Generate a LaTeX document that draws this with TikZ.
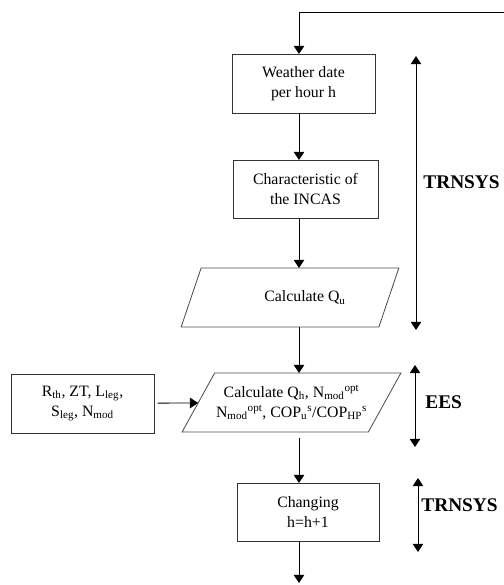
\documentclass[tikz,border=0pt]{standalone}
\usepackage{fontspec}
\setmainfont{Liberation Serif}
\usetikzlibrary{arrows.meta,shapes.geometric}

\tikzset{
  flowbox/.style={draw=black!80, rectangle, minimum width=4.29cm, minimum height=1.77cm,
    inner sep=0pt, outer sep=0pt, align=center, font=\fontsize{13.5}{17}\selectfont},
  flowio/.style={draw=black!70, trapezium, trapezium left angle=47.5, trapezium right angle=132.5,
    trapezium stretches=true, minimum width=6.54cm, minimum height=1.77cm,
    inner sep=0pt, outer sep=0pt, align=center, font=\fontsize{13.5}{17}\selectfont},
  toolname/.style={anchor=west, inner sep=0pt, font=\fontsize{16.5}{20}\selectfont\bfseries}
}

\begin{document}
\begin{tikzpicture}[x=0.03cm,y=-0.03cm, line width=0.7pt, >={Triangle[length=7pt,width=9pt]}]
	\useasboundingbox (0,0) rectangle (504,585);

	% Hauptkette
	\node[flowbox] (weather) at (303.5,83.5) {Weather date\\per hour h};
	\node[flowbox, minimum width=4.35cm, minimum height=1.74cm] (incas) at (305.5,189) {Characteristic of\\the INCAS};
	\node[flowio] (calcqu) at (290,297.5) {\hspace*{0.9cm}Calculate Q\textsubscript{u}};
	\node[flowio, minimum width=6.57cm] (calcqh) at (291.5,402.5)
		{Calculate Q\textsubscript{h}, N\textsubscript{mod}\textsuperscript{opt}\\
		 N\textsubscript{mod}\textsuperscript{opt}, COP\textsubscript{u}\textsuperscript{s}/COP\textsubscript{HP}\textsuperscript{s}};
	\node[flowbox, minimum width=4.26cm, minimum height=1.74cm] (changing) at (308,512) {Changing\\h=h+1};

	% Eingangsgroessen
	\node[flowbox] (inputs) at (82.5,403.5)
		{R\textsubscript{th}, ZT, L\textsubscript{leg},\\S\textsubscript{leg}, N\textsubscript{mod}};

	% Ruecklauf und Ausgang
	\coordinate (loopin) at (504,12);
	\coordinate (top) at (299,12);
	\coordinate (exit) at (299,583);

	\draw[->] (loopin) -- (top) -- (top |- weather.north);
	\draw[->] (weather.south -| top) -- (top |- incas.north);
	\draw[->] (incas.south -| top) -- (top |- calcqu.north);
	\draw[->] (calcqu.south -| top) -- (top |- calcqh.north);
	\draw[->, shorten <=3] (inputs) -- (calcqh);
	\draw[->, shorten <=5] (calcqh.south -| top) -- (top |- changing.north);
	\draw[->] (changing.south -| top) -- (exit);

	% Programmbereiche
	\coordinate (trnA) at (416,56);
	\coordinate (trnB) at (416,330);
	\coordinate (eesA) at (415,365);
	\coordinate (eesB) at (415,447);
	\coordinate (trnC) at (418,478);
	\coordinate (trnD) at (418,552);

	\draw[<->] (trnA) -- (trnB);
	\draw[<->] (eesA) -- (eesB);
	\draw[<->] (trnC) -- (trnD);

	\node[toolname] (trnsysA) at (423,182) {TRNSYS};
	\node[toolname] (ees) at (425,402) {EES};
	\node[toolname] (trnsysB) at (421,505) {TRNSYS};
\end{tikzpicture}
\end{document}
